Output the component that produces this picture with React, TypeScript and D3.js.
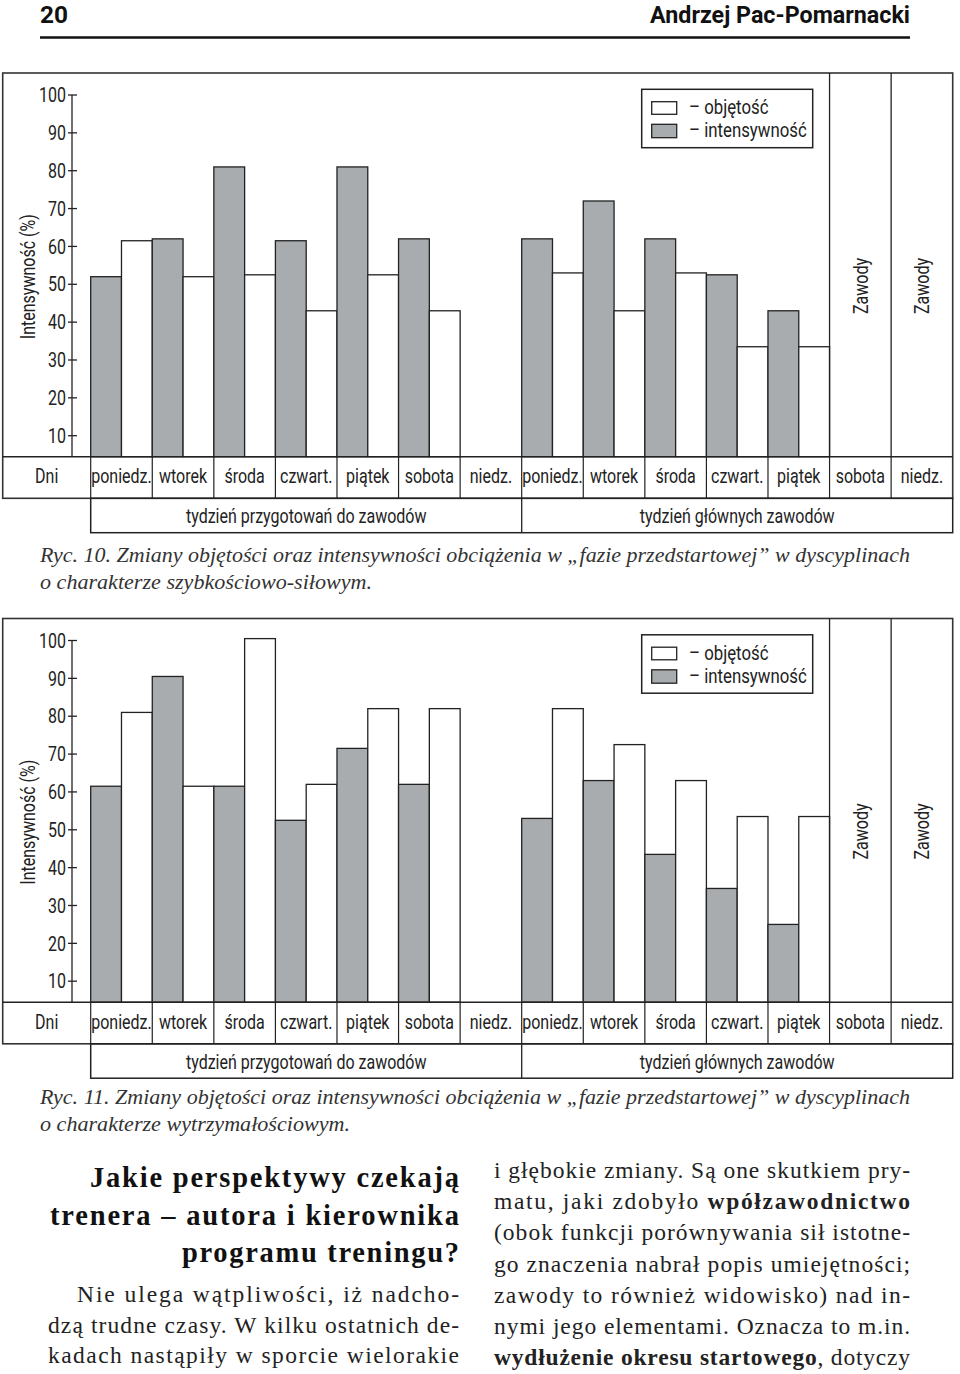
import React from 'react';
import * as d3 from 'd3';

// ---------- data ----------
const days = ['poniedz.', 'wtorek', 'środa', 'czwart.', 'piątek', 'sobota', 'niedz.'];
const weeks = ['tydzień przygotowań do zawodów', 'tydzień głównych zawodów'];
const yTicks = [10, 20, 30, 40, 50, 60, 70, 80, 90, 100];
const competitionDayIdx = [12, 13];
const competitionLabel = 'Zawody';
const legendLabels = ['– objętość', '– intensywność'];
const yAxisLabel = 'Intensywność (%)';
const rowLabel = 'Dni';

// Ryc. 10 – speed/strength
const fig10Intensity = [52, 62, 81, 61.5, 81, 62, null, 62, 72, 62, 52.5, 43, null, null];
const fig10Volume = [61.5, 52, 52.5, 43, 52.5, 43, null, 53, 43, 53, 33.5, 33.5, null, null];
// Ryc. 11 – endurance
const fig11Intensity = [61.5, 90.5, 61.5, 52.5, 71.5, 62, null, 53, 63, 43.5, 34.5, 25, null, null];
const fig11Volume = [81, 61.5, 100.5, 62, 82, 82, null, 82, 72.5, 63, 53.5, 53.5, null, null];

const caption10 = [
  'Ryc. 10. Zmiany objętości oraz intensywności obciążenia w „fazie przedstartowej” w dyscyplinach',
  'o charakterze szybkościowo-siłowym.',
];
const caption11 = [
  'Ryc. 11. Zmiany objętości oraz intensywności obciążenia w „fazie przedstartowej” w dyscyplinach',
  'o charakterze wytrzymałościowym.',
];

const headingLines = ['Jakie perspektywy czekają', 'trenera – autora i kierownika', 'programu treningu?'];
const leftBody = [
  'Nie ulega wątpliwości, iż nadcho-',
  'dzą trudne czasy. W kilku ostatnich de-',
  'kadach nastąpiły w sporcie wielorakie',
];
const rightBody: Array<Array<[string, boolean]>> = [
  [['i głębokie zmiany. Są one skutkiem pry-', false]],
  [['matu, jaki zdobyło ', false], ['wpółzawodnictwo', true]],
  [['(obok funkcji porównywania sił istotne-', false]],
  [['go znaczenia nabrał popis umiejętności;', false]],
  [['zawody to również widowisko)  nad in-', false]],
  [['nymi jego elementami. Oznacza to m.in.', false]],
  [['wydłużenie okresu startowego', true], [', dotyczy', false]],
];

const pageNumber = '20';
const author = 'Andrzej Pac-Pomarnacki';

// ---------- style ----------
const SANS = "Roboto, 'Liberation Sans', sans-serif";
const SERIF = "'Liberation Serif', 'Times New Roman', serif";
const GRAY = '#a9acae';
const INK = '#222';
const SX = 0.8; // horizontal condensing of the sans labels

type STProps = {
  x: number; y: number; size: number; anchor?: string; rotate?: number;
  central?: boolean; weight?: string; children: React.ReactNode;
};
function ST({ x, y, size, anchor = 'start', rotate, central, weight, children }: STProps) {
  const tr = `translate(${x},${y})${rotate ? ` rotate(${rotate})` : ''} scale(${SX},1)`;
  return (
    <text transform={tr} textAnchor={anchor} dominantBaseline={central ? 'central' : undefined}
      fontFamily={SANS} fontSize={size} fontWeight={weight} fill={INK}>{children}</text>
  );
}

type ChartProps = { dy: number; intensity: (number | null)[]; volume: (number | null)[] };

function Chart({ dy, intensity, volume }: ChartProps) {
  const left = 2.7, right = 952.7, top = 73 + dy;
  const base = 456.7 + dy, daysBottom = 498.3 + dy, weekBottom = 532.7 + dy;
  const allDays = d3.range(14);
  const x = d3.scaleBand<number>().domain(allDays).range([90.7, right]).padding(0);
  const inner = d3.scaleBand<string>().domain(['i', 'v']).range([0, x.bandwidth()]).padding(0);
  const y = d3.scaleLinear().domain([10, 100]).range([435.7 + dy, 95 + dy]);
  const weekX = d3.scaleBand<number>().domain([0, 1]).range([90.7, right]).padding(0);
  const axisX = 72;

  return (
    <g>
      {allDays.map((d) => {
        const iv = intensity[d];
        const vv = volume[d];
        return (
          <g key={'b' + d}>
            {iv != null && (
              <rect x={x(d)! + inner('i')!} y={y(iv)} width={inner.bandwidth()} height={base - y(iv)}
                fill={GRAY} stroke={INK} strokeWidth={1.3} />
            )}
            {vv != null && (
              <rect x={x(d)! + inner('v')!} y={y(vv)} width={inner.bandwidth()} height={base - y(vv)}
                fill="#fff" stroke={INK} strokeWidth={1.3} />
            )}
          </g>
        );
      })}
      <rect x={left} y={top} width={right - left} height={daysBottom - top} fill="none" stroke="#333" strokeWidth={1.6} />
      <line x1={left} x2={right} y1={base} y2={base} stroke={INK} strokeWidth={1.4} />
      {allDays.map((d) => (
        <line key={'s' + d} x1={x(d)!} x2={x(d)!} y1={base} y2={daysBottom} stroke={INK} strokeWidth={1.2} />
      ))}
      {competitionDayIdx.map((d) => (
        <g key={'c' + d}>
          <line x1={x(d)!} x2={x(d)!} y1={top} y2={base} stroke={INK} strokeWidth={1.3} />
          <ST x={x(d)! + x.bandwidth() / 2} y={286 + dy} rotate={-90} anchor="middle" central size={20}>{competitionLabel}</ST>
        </g>
      ))}
      <line x1={axisX} x2={axisX} y1={y(100)} y2={base} stroke={INK} strokeWidth={1.3} />
      {yTicks.map((t) => (
        <g key={'t' + t}>
          <line x1={axisX - 4} x2={axisX + 5} y1={y(t)} y2={y(t)} stroke={INK} strokeWidth={1.3} />
          <ST x={66} y={y(t)} anchor="end" central size={20}>{t}</ST>
        </g>
      ))}
      <ST x={28} y={276.7 + dy} rotate={-90} anchor="middle" central size={20}>{yAxisLabel}</ST>
      <ST x={(left + 90.7) / 2} y={483 + dy} anchor="middle" size={20}>{rowLabel}</ST>
      {allDays.map((d) => (
        <ST key={'l' + d} x={x(d)! + x.bandwidth() / 2} y={483 + dy} anchor="middle" size={20}>{days[d % 7]}</ST>
      ))}
      <rect x={90.7} y={daysBottom} width={right - 90.7} height={weekBottom - daysBottom} fill="none" stroke={INK} strokeWidth={1.5} />
      <line x1={weekX(1)!} x2={weekX(1)!} y1={daysBottom} y2={weekBottom} stroke={INK} strokeWidth={1.3} />
      {weeks.map((w, i) => (
        <ST key={'w' + i} x={weekX(i)! + weekX.bandwidth() / 2} y={523 + dy} anchor="middle" size={20}>{w}</ST>
      ))}
      <rect x={641.7} y={89.3 + dy} width={171} height={58.4} fill="#fff" stroke={INK} strokeWidth={1.5} />
      <rect x={651.7} y={101.7 + dy} width={25} height={12.6} fill="#fff" stroke={INK} strokeWidth={1.3} />
      <rect x={651.7} y={124.3 + dy} width={25} height={13.4} fill={GRAY} stroke={INK} strokeWidth={1.3} />
      <ST x={689} y={114 + dy} size={21}>{legendLabels[0]}</ST>
      <ST x={689} y={137 + dy} size={21}>{legendLabels[1]}</ST>
    </g>
  );
}

function Caption({ lines, y0, w2 }: { lines: string[]; y0: number; w2: number }) {
  return (
    <g fontFamily={SERIF} fontStyle="italic" fontSize={21} fill="#333">
      <text x={40} y={y0} textLength={870} lengthAdjust="spacingAndGlyphs">{lines[0]}</text>
      <text x={40} y={y0 + 27} textLength={w2} lengthAdjust="spacingAndGlyphs">{lines[1]}</text>
    </g>
  );
}

export default function App() {
  const headingW = [369, 409, 277];
  const headingY = [1187, 1225, 1262];
  const leftX = [77, 48, 48];
  const leftY = [1302, 1333, 1363];
  const rightY = [1178, 1209, 1240, 1272, 1303, 1334, 1365];
  return (
    <svg width={960} height={1374} viewBox="0 0 960 1374"
      style={{ position: 'absolute', left: 0, top: 0, background: '#fff' }}>
      <rect width={960} height={1374} fill="#fff" />
      <text x={40} y={23} fontFamily={SANS} fontWeight="bold" fontSize={24} fill="#111" textLength={28} lengthAdjust="spacingAndGlyphs">{pageNumber}</text>
      <text x={650} y={23} fontFamily={SANS} fontWeight="bold" fontSize={24} fill="#111" textLength={260} lengthAdjust="spacingAndGlyphs">{author}</text>
      <line x1={40} x2={910} y1={37.5} y2={37.5} stroke="#111" strokeWidth={2.5} />

      <Chart dy={0} intensity={fig10Intensity} volume={fig10Volume} />
      <Caption lines={caption10} y0={562} w2={332} />
      <Chart dy={545.5} intensity={fig11Intensity} volume={fig11Volume} />
      <Caption lines={caption11} y0={1104} w2={310} />

      {headingLines.map((l, i) => (
        <text key={'h' + i} x={459 - headingW[i]} y={headingY[i]} fontFamily={SERIF} fontWeight="bold" fontSize={28.5}
          fill="#111" textLength={headingW[i]} lengthAdjust="spacing">{l}</text>
      ))}
      {leftBody.map((l, i) => (
        <text key={'lb' + i} x={leftX[i]} y={leftY[i]} fontFamily={SERIF} fontSize={23.5} fill="#222"
          textLength={459 - leftX[i]} lengthAdjust="spacing">{l}</text>
      ))}
      {rightBody.map((segs, i) => (
        <text key={'rb' + i} x={494} y={rightY[i]} fontFamily={SERIF} fontSize={23.5} fill="#222"
          textLength={416} lengthAdjust="spacing">
          {segs.map(([s, b], j) => (
            <tspan key={j} fontWeight={b ? 'bold' : 'normal'}>{s}</tspan>
          ))}
        </text>
      ))}
    </svg>
  );
}
